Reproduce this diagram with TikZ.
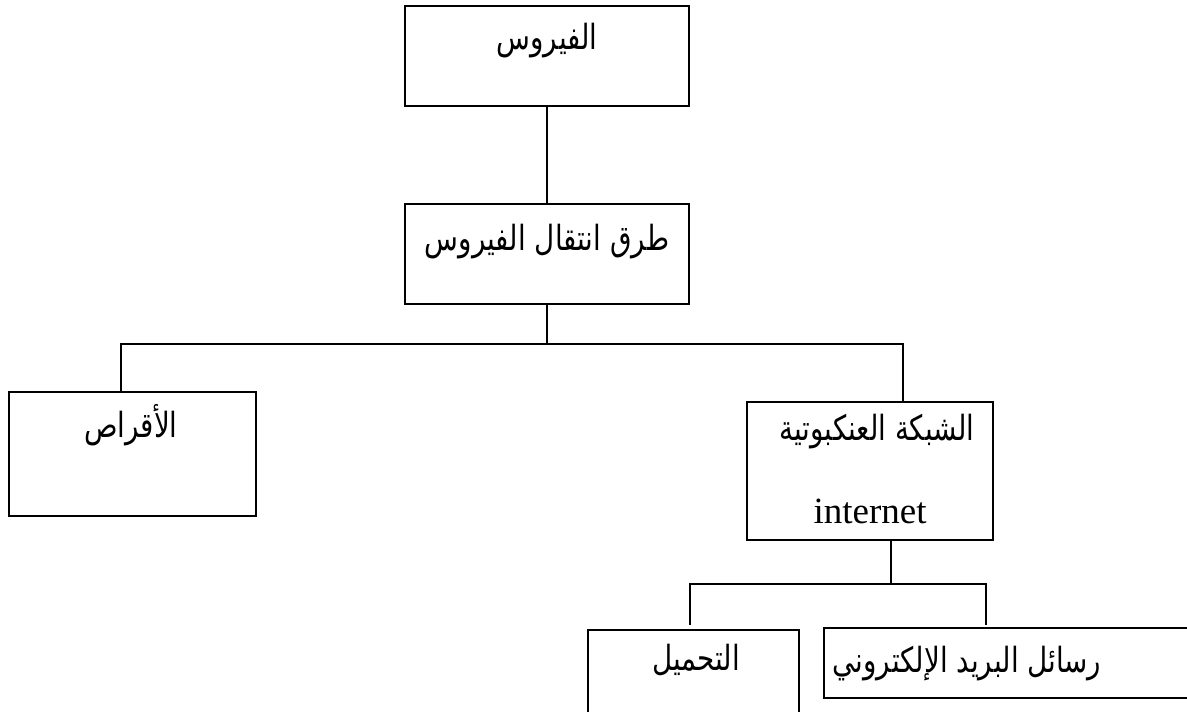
\documentclass[tikz,border=0pt]{standalone}
\usepackage{fontspec}
\setmainfont{Liberation Serif}
\newfontfamily\arabicfont[Script=Arabic,FakeStretch=0.8]{DejaVu Sans}
\TeXXeTstate=1
\tikzset{
  box/.style={draw, line width=1.2pt, anchor=north west, inner sep=0pt, outer sep=0pt},
  ar/.style={anchor=base, inner sep=0pt, font=\arabicfont\fontsize{26}{30}\selectfont},
  lat/.style={anchor=base, inner sep=0pt, font=\fontsize{27.75}{32}\selectfont},
  link/.style={line width=1.2pt}
}
\begin{document}
\begin{tikzpicture}[x=0.75pt,y=-0.75pt]
                \useasboundingbox (0,0) rectangle (1187,711);
                \clip (0,0) rectangle (1187,711);

                % boxes
                \node[box, minimum width=284*0.75pt, minimum height=100*0.75pt] (virus) at (405,6) {};
                \node[box, minimum width=284*0.75pt, minimum height=100*0.75pt] (ways) at (405,204) {};
                \node[box, minimum width=247*0.75pt, minimum height=124*0.75pt] (disks) at (9,392) {};
                \node[box, minimum width=246*0.75pt, minimum height=138*0.75pt] (web) at (747,402) {};
                \node[box, minimum width=211*0.75pt, minimum height=100*0.75pt] (load) at (588,630) {};
                \node[box, minimum width=380*0.75pt, minimum height=70*0.75pt] (mail) at (824,628) {};

                % texts
                \node[ar] (tvirus) at (547,49) {\beginR الفيروس\endR};
                \node[ar] (tways) at (547,250) {\beginR طرق انتقال الفيروس\endR};
                \node[ar] (tdisks) at (131,437) {\beginR الأقراص\endR};
                \node[ar] (tweb) at (877,440) {\beginR الشبكة العنكبوتية\endR};
                \node[lat] (tnet) at (870,523) {internet};
                \node[ar] (tload) at (696,670) {\beginR التحميل\endR};
                \node[ar] (tmail) at (967,672) {\beginR رسائل البريد الإلكتروني\endR};

                % first level
                \coordinate (j1) at (547,344);
                \coordinate (jl) at (121,344);
                \coordinate (jr) at (903,344);
                \draw[link] (virus.south) -- (ways.north);
                \draw[link] (ways.south) -- (ways.south |- j1);
                \draw[link] (jl |- disks.north) -- (jl) -- (jr) -- (jr |- web.north);

                % second level
                \coordinate (k1) at (891,584);
                \coordinate (kl) at (690,584);
                \coordinate (kr) at (986,584);
                \coordinate (el) at (690,625);
                \coordinate (er) at (986,625);
                \draw[link] (k1 |- web.south) -- (k1);
                \draw[link] (el) -- (kl) -- (kr) -- (er);
\end{tikzpicture}
\end{document}
